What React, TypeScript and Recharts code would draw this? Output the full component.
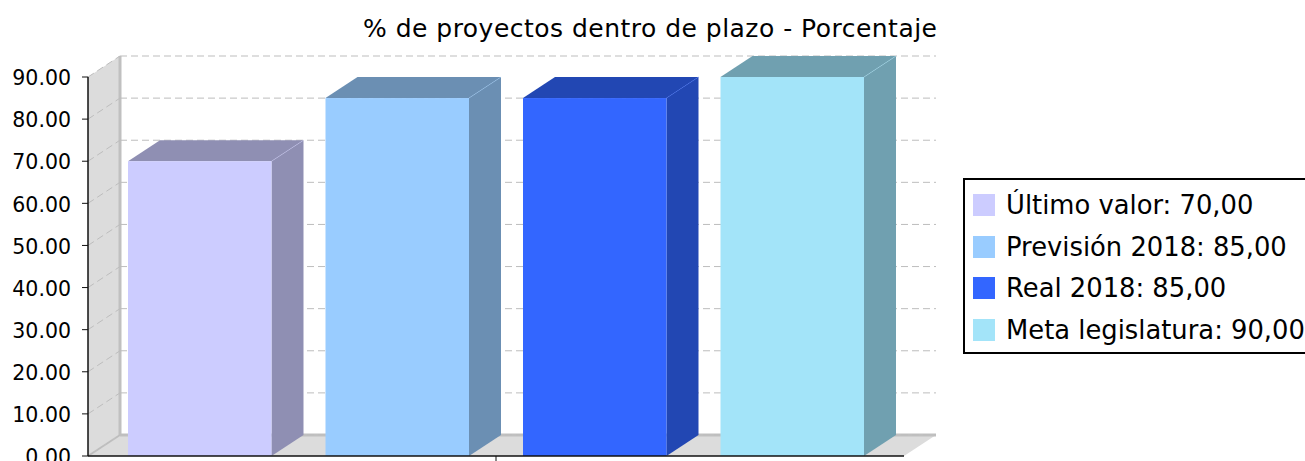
import { Bar, BarChart, CartesianGrid, Legend, ReferenceArea, XAxis, YAxis } from "recharts";

const categories = [""];
const seriesNames = ["Último valor: 70,00", "Previsión 2018: 85,00", "Real 2018: 85,00", "Meta legislatura: 90,00"];
const seriesValues = [70, 85, 85, 90];
const seriesColors = ["#ccccff", "#99ccff", "#3366ff", "#a3e4f9"];
const sideColors = ["#8f8fb3", "#6b8fb3", "#2247b3", "#70a0b0"];
const yTicks = [0, 10, 20, 30, 40, 50, 60, 70, 80, 90];

const DEPTH_X = 32;
const DEPTH_Y = 21;
const FONT = "'DejaVu Sans', sans-serif";
const AXIS_LINE = { stroke: "#111", strokeWidth: 1.5 };

const chartData = categories.map((name) => {
  const row: Record<string, string | number> = { name };
  seriesNames.forEach((s, i) => {
    row[s] = seriesValues[i];
  });
  return row;
});

function makeBar3D(side: string) {
  return function Bar3D(props: any) {
    const { x, y, width, height, fill } = props;
    const r = x + width;
    const b = y + height;
    return (
      <g>
        <polygon points={`${x},${y} ${x + DEPTH_X},${y - DEPTH_Y} ${r + DEPTH_X},${y - DEPTH_Y} ${r},${y}`} fill={side} />
        <polygon points={`${r},${y} ${r + DEPTH_X},${y - DEPTH_Y} ${r + DEPTH_X},${b - DEPTH_Y} ${r},${b}`} fill={side} />
        <line x1={r} y1={y} x2={r + DEPTH_X} y2={y - DEPTH_Y} stroke={fill} strokeOpacity={0.4} />
        <rect x={x} y={y} width={width} height={height} fill={fill} />
      </g>
    );
  };
}

function WallAndFloor(props: any) {
  const { x, y, width, height } = props;
  const b = y + height;
  const r = x + width;
  return (
    <g>
      <polygon points={`${x},${y} ${x + DEPTH_X},${y - DEPTH_Y} ${x + DEPTH_X},${b - DEPTH_Y} ${x},${b}`} fill="#dcdcdc" />
      <polygon points={`${x},${b} ${x + DEPTH_X},${b - DEPTH_Y} ${r + DEPTH_X},${b - DEPTH_Y} ${r},${b}`} fill="#dcdcdc" />
      <line x1={x + DEPTH_X} y1={y - DEPTH_Y} x2={x + DEPTH_X} y2={b - DEPTH_Y} stroke="#c0c0c0" strokeWidth={3} />
      <line x1={x + DEPTH_X} y1={b - DEPTH_Y} x2={r + DEPTH_X} y2={b - DEPTH_Y} stroke="#c0c0c0" strokeWidth={3} />
      <line x1={x} y1={b} x2={x + DEPTH_X} y2={b - DEPTH_Y} stroke="#c0c0c0" strokeWidth={2} />
    </g>
  );
}

function gridLine(props: any) {
  const { x1, x2, y1, key } = props;
  return (
    <g key={key}>
      <line x1={x1} y1={y1} x2={x1 + DEPTH_X} y2={y1 - DEPTH_Y} stroke="#bdbdbd" strokeDasharray="7 4" />
      <line x1={x1 + DEPTH_X} y1={y1 - DEPTH_Y} x2={x2 + DEPTH_X} y2={y1 - DEPTH_Y} stroke="#bdbdbd" strokeDasharray="7 4" />
    </g>
  );
}

function LegendBox() {
  return (
    <div
      style={{
        boxSizing: "border-box",
        width: 350,
        height: 176,
        border: "2.5px solid #000",
        background: "#fff",
        padding: "4px 0 0 8px",
        fontFamily: FONT,
        fontSize: 25.8,
        color: "#000",
      }}
    >
      {seriesNames.map((s, i) => (
        <div key={s} style={{ display: "flex", alignItems: "center", height: 41.8 }}>
          <span style={{ width: 22, height: 22, background: seriesColors[i], marginRight: 11 }} />
          <span style={{ whiteSpace: "nowrap" }}>{s}</span>
        </div>
      ))}
    </div>
  );
}

export default function App() {
  return (
    <div style={{ position: "absolute", left: 0, top: 0, width: 1305, height: 461, overflow: "hidden" }}>
      <BarChart
        width={1305}
        height={461}
        data={chartData}
        margin={{ top: 77, right: 401, bottom: 4, left: 0 }}
        barCategoryGap={40}
        barGap={54}
        barSize={143.5}
      >
        <ReferenceArea y1={0} y2={90} shape={WallAndFloor} ifOverflow="visible" zIndex={-200} />
        <CartesianGrid vertical={false} horizontal={gridLine} />
        {seriesNames.map((s, i) => (
          <Bar key={s} dataKey={s} fill={seriesColors[i]} shape={makeBar3D(sideColors[i])} isAnimationActive={false} />
        ))}
        <XAxis
          dataKey="name"
          height={1}
          axisLine={AXIS_LINE}
          tickLine={{ stroke: "#111" }}
          tickSize={6}
          tick={{ fontSize: 1 }}
          zIndex={600}
        />
        <YAxis
          width={88}
          domain={[0, 90]}
          ticks={yTicks}
          interval={0}
          axisLine={AXIS_LINE}
          tickLine={{ stroke: "#111" }}
          tickSize={6}
          tickMargin={11}
          tickFormatter={(v: number) => v.toFixed(2)}
          tick={{ fontFamily: FONT, fontSize: 20.5, fill: "#000", dy: 1 }}
          zIndex={600}
        />
        <Legend
          layout="vertical"
          align="center"
          verticalAlign="middle"
          content={<LegendBox />}
          wrapperStyle={{ position: "absolute", left: 963, top: 178, width: 350 }}
        />
        <text x={363} y={37} fontFamily={FONT} fontSize={25} fill="#000" textLength={574}>
          % de proyectos dentro de plazo - Porcentaje
        </text>
      </BarChart>
    </div>
  );
}
